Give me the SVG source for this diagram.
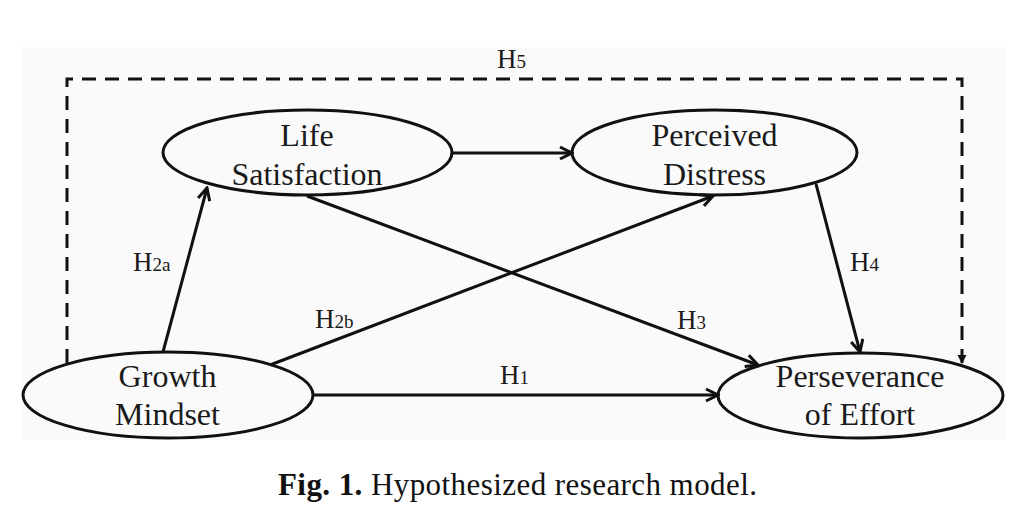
<svg xmlns="http://www.w3.org/2000/svg" width="1029" height="516" viewBox="0 0 1029 516">
<style>
.node{fill:none;stroke:#111;stroke-width:3}
.lbl{font-family:"Liberation Serif","Times New Roman",serif;font-size:32px;fill:#1a1a1a;text-anchor:middle}
.h{font-family:"Liberation Serif","Times New Roman",serif;font-size:27px;fill:#1a1a1a}
.sub{font-size:19px}
.edge{fill:none;stroke:#111;stroke-width:3;marker-end:url(#arr)}
.dash{fill:none;stroke:#111;stroke-width:3;stroke-dasharray:14 9;marker-end:url(#tri)}
.cap{font-family:"Liberation Serif","Times New Roman",serif;font-size:31px;fill:#111}
</style>
<defs>
<marker id="arr" viewBox="0 0 16 16" markerWidth="16" markerHeight="16" refX="14" refY="8" orient="auto" markerUnits="userSpaceOnUse">
<path d="M2,2 L14,8 L2,14" fill="none" stroke="#111" stroke-width="3" stroke-linejoin="miter"/>
</marker>
<marker id="tri" viewBox="0 0 10 10" markerWidth="10" markerHeight="10" refX="9" refY="5" orient="auto" markerUnits="userSpaceOnUse">
<path d="M0,0.5 L9,5 L0,9.5 Z" fill="#111"/>
</marker>
</defs>
<rect width="1029" height="516" fill="#fff"/>
<rect x="22" y="47" width="983" height="393" fill="#fafafa"/>
<g id="connectors">
<path class="dash" d="M67,363 V79 H962 V364"/>
<path class="edge" d="M452,153 H572"/>
<path class="edge" d="M163,352 L207,188"/>
<path class="edge" d="M270,365 L713,196"/>
<path class="edge" d="M307,196 L758,365"/>
<path class="edge" d="M816,184 L860,352"/>
<path class="edge" d="M313,395 H718"/>
</g>
<g id="life">
<ellipse class="node" cx="307.5" cy="152.5" rx="144.5" ry="42.5" fill="#fafafa"/>
<text class="lbl" x="307" y="146">Life</text>
<text class="lbl" x="307" y="185">Satisfaction</text>
</g>
<g id="distress">
<ellipse class="node" cx="714.5" cy="152.5" rx="142.5" ry="42.5"/>
<text class="lbl" x="714.5" y="146">Perceived</text>
<text class="lbl" x="714.5" y="185">Distress</text>
</g>
<g id="growth">
<ellipse class="node" cx="168" cy="395" rx="145" ry="43"/>
<text class="lbl" x="167.5" y="387">Growth</text>
<text class="lbl" x="167.5" y="425">Mindset</text>
</g>
<g id="perseverance">
<ellipse class="node" cx="860.5" cy="395.5" rx="142.5" ry="42.5"/>
<text class="lbl" x="860" y="387">Perseverance</text>
<text class="lbl" x="860" y="425">of Effort</text>
</g>
<g id="labels">
<text class="h" x="497" y="68">H<tspan class="sub">5</tspan></text>
<text class="h" x="133" y="271">H<tspan class="sub">2a</tspan></text>
<text class="h" x="315" y="328">H<tspan class="sub">2b</tspan></text>
<text class="h" x="500" y="384">H<tspan class="sub">1</tspan></text>
<text class="h" x="677" y="329">H<tspan class="sub">3</tspan></text>
<text class="h" x="850" y="271">H<tspan class="sub">4</tspan></text>
</g>
<text class="cap" x="278" y="495" textLength="479" lengthAdjust="spacing"><tspan font-weight="bold">Fig. 1.</tspan> Hypothesized research model.</text>
</svg>
